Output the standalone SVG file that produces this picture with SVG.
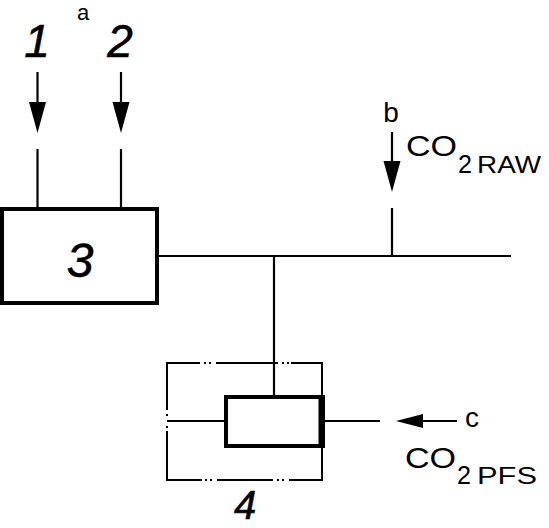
<svg xmlns="http://www.w3.org/2000/svg" width="549" height="528" viewBox="0 0 549 528">
<style>
.ln{stroke:#000;stroke-width:2.2;fill:none}
.bx{stroke:#000;stroke-width:4;fill:#fff}
.ph{stroke:#000;stroke-width:2;fill:none}
.t{font-family:"Liberation Sans",Arial,sans-serif;fill:#000}
.it{font-style:italic}
</style>
<defs>
<path id="ah" d="M0,0 L-8.5,-31 L8.5,-31 Z" fill="#000"/>
</defs>
<g id="connectors">
<line class="ln" x1="37.5" y1="72" x2="37.5" y2="103"/>
<use href="#ah" transform="translate(37.5,133)"/>
<line class="ln" x1="37.5" y1="149" x2="37.5" y2="209"/>
<line class="ln" x1="121" y1="72" x2="121" y2="103"/>
<use href="#ah" transform="translate(121,133)"/>
<line class="ln" x1="121" y1="149" x2="121" y2="209"/>
<line class="ln" x1="157" y1="256" x2="511" y2="256"/>
<line class="ln" x1="392" y1="132" x2="392" y2="161"/>
<use href="#ah" transform="translate(392,192)"/>
<line class="ln" x1="392" y1="208" x2="392" y2="256"/>
<line class="ln" x1="274" y1="256" x2="274" y2="397"/>
<line class="ln" x1="167" y1="421" x2="226" y2="421"/>
<line class="ln" x1="323" y1="421" x2="380" y2="421"/>
<line class="ln" x1="421" y1="421" x2="457" y2="421"/>
<path d="M396,421 L423,414 L423,428 Z" fill="#000"/>
</g>
<g id="node-3">
<rect class="bx" x="2" y="209" width="155" height="94"/>
<text class="t it" x="80" y="277" font-size="48" text-anchor="middle" stroke="#000" stroke-width="0.6">3</text>
</g>
<g id="node-4">
<path class="ph" d="M167,363 H200 M204,363 h2 M209,363 h2 M216,363 H278 M282,363 h2 M287,363 h2 M291,363 H322"/>
<path class="ph" d="M167,480 H202 M205,480 h2 M210,480 h2 M217,480 H273 M277,480 h2 M282,480 h2 M289,480 H322"/>
<path class="ph" stroke-width="1.8" d="M167,362 V410 M167,414 v2 M167,426 v2 M167,431 V481"/>
<path class="ph" stroke-width="1.8" d="M322,362 V481"/>
<rect x="226" y="397" width="97" height="49" fill="#fff" stroke="#000" stroke-width="4"/>
<line x1="321" y1="395" x2="321" y2="448" stroke="#000" stroke-width="5"/>
<text class="t it" x="245" y="519" font-size="40" text-anchor="middle" stroke="#000" stroke-width="0.6">4</text>
</g>
<g id="labels">
<text class="t it" x="37" y="57" font-size="46" text-anchor="middle" stroke="#000" stroke-width="0.6">1</text>
<text class="t it" x="120" y="57" font-size="46" text-anchor="middle" stroke="#000" stroke-width="0.6">2</text>
<text class="t" x="83" y="20" font-size="22" text-anchor="middle">a</text>
<text class="t" x="391" y="122" font-size="28" text-anchor="middle">b</text>
<text class="t" x="472" y="427" font-size="28" text-anchor="middle">c</text>
<text class="t" x="406" y="156" font-size="29" textLength="51" lengthAdjust="spacingAndGlyphs">CO</text>
<text class="t" x="458" y="173" font-size="25" textLength="14" lengthAdjust="spacingAndGlyphs">2</text>
<text class="t" x="477" y="173" font-size="23" textLength="64" lengthAdjust="spacingAndGlyphs">RAW</text>
<text class="t" x="405" y="468" font-size="29" textLength="51" lengthAdjust="spacingAndGlyphs">CO</text>
<text class="t" x="457" y="484" font-size="25" textLength="14" lengthAdjust="spacingAndGlyphs">2</text>
<text class="t" x="477" y="484" font-size="23" textLength="60" lengthAdjust="spacingAndGlyphs">PFS</text>
</g>
</svg>
